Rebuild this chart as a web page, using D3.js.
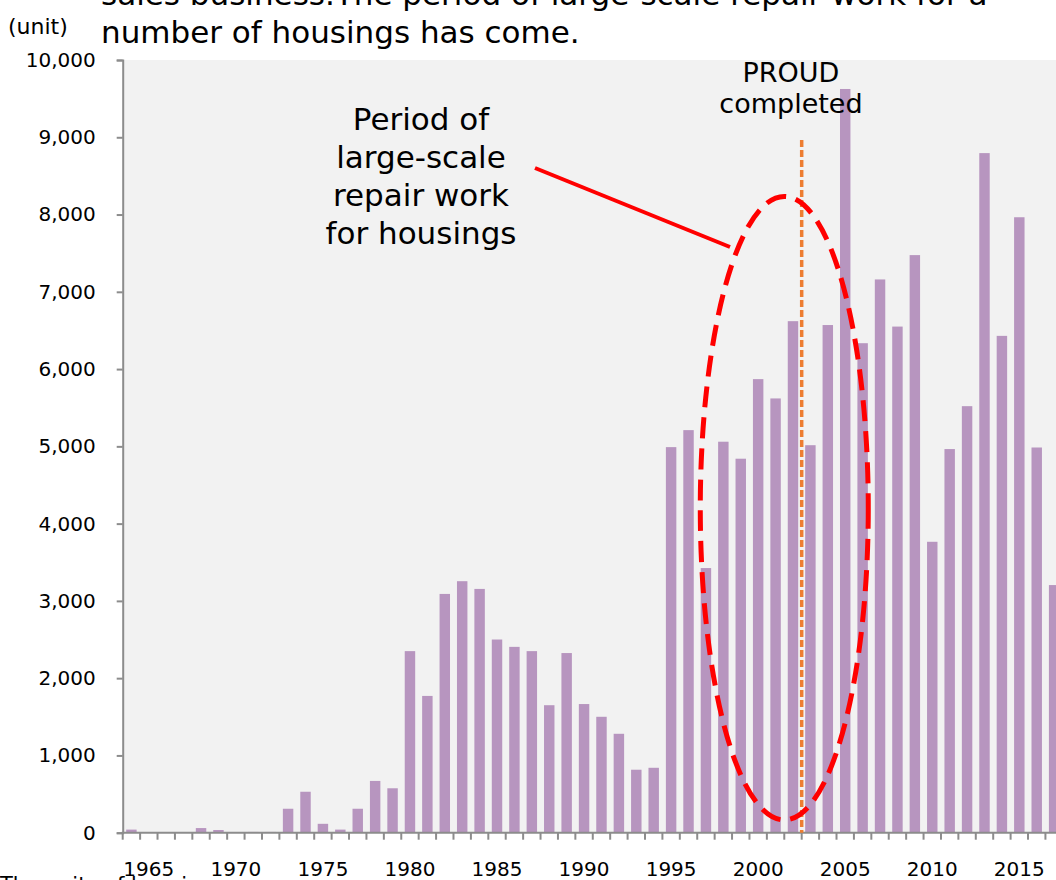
<!DOCTYPE html>
<html>
<head>
<meta charset="utf-8">
<script src="https://cdn.jsdelivr.net/npm/d3@7"></script>
<style>
  html, body { margin: 0; padding: 0; background: #ffffff; }
  svg { display: block; font-family: "DejaVu Sans", Verdana, sans-serif; }
</style>
</head>
<body>
<svg id="chart" width="1056" height="880"></svg>
<script>
// Units of housings per completion year
const years = [
  1964, 1965, 1966, 1967, 1968, 1969, 1970, 1971, 1972, 1973,
  1974, 1975, 1976, 1977, 1978, 1979, 1980, 1981, 1982, 1983,
  1984, 1985, 1986, 1987, 1988, 1989, 1990, 1991, 1992, 1993,
  1994, 1995, 1996, 1997, 1998, 1999, 2000, 2001, 2002, 2003,
  2004, 2005, 2006, 2007, 2008, 2009, 2010, 2011, 2012, 2013,
  2014, 2015, 2016, 2017
];
const units = [
  40, 0, 0, 0, 60, 35, 0, 10, 10, 310,
  530, 115, 40, 310, 670, 575, 2350, 1770, 3090, 3255,
  3155, 2500, 2405, 2350, 1650, 2325, 1665, 1500, 1280, 815,
  840, 4990, 5210, 3425, 5060, 4840, 5870, 5620, 6620, 5015,
  6570, 9625, 6335, 7160, 6550, 7475, 3765, 4965, 5520, 8795,
  6430, 7965, 4985, 3205
];
const yTicks = [0, 1000, 2000, 3000, 4000, 5000, 6000, 7000, 8000, 9000, 10000];
const xLabelYears = [1965, 1970, 1975, 1980, 1985, 1990, 1995, 2000, 2005, 2010, 2015];

const headlineLines = [
  "sales business.The period of large-scale repair work for a",
  "number of housings has come."
];
const footnote = "The units of housings";
const calloutLines = ["Period of", "large-scale", "repair work", "for housings"];
const proudLines = ["PROUD", "completed"];
const proudYear = 2002;   // line drawn at the end of this year's slot

const svg = d3.select("#chart");
const W = 1056, H = 880;
const plot = { left: 122.7, top: 60, bottom: 832.7 };
const step = 17.41;

const x = d3.scaleBand()
  .domain(years)
  .range([plot.left, plot.left + years.length * step])
  .paddingInner(0.4)
  .paddingOuter(0.2);
const y = d3.scaleLinear().domain([0, 10000]).range([plot.bottom, plot.top]);
const xc = yr => x(yr) + x.bandwidth() / 2;          // slot centre
const xEdge = yr => xc(yr) + x.step() / 2;            // right edge of a slot

// plot area
svg.append("rect")
  .attr("x", plot.left).attr("y", plot.top)
  .attr("width", W - plot.left).attr("height", plot.bottom - plot.top)
  .attr("fill", "#f2f2f2");

// bars
svg.append("g").selectAll("rect")
  .data(years.map((yr, i) => ({ yr, v: units[i] })))
  .join("rect")
  .attr("x", d => x(d.yr))
  .attr("y", d => y(d.v))
  .attr("width", x.bandwidth())
  .attr("height", d => plot.bottom - y(d.v))
  .attr("fill", "#b795bf");

// y axis
const yAxis = svg.append("g")
  .attr("transform", `translate(${plot.left},0)`)
  .call(d3.axisLeft(y).tickValues(yTicks).tickFormat(d3.format(",")).tickSize(6).tickPadding(21));
yAxis.select(".domain").attr("stroke", "#8c8c8c").attr("stroke-width", 2);
yAxis.selectAll(".tick line").attr("stroke", "#8c8c8c").attr("stroke-width", 2);
yAxis.selectAll(".tick text")
  .attr("font-family", "DejaVu Sans, Verdana, sans-serif")
  .attr("font-size", 20).attr("fill", "#000");

// footnote below the axis, mostly running off the bottom edge
svg.append("text")
  .attr("x", 0).attr("y", 892)
  .attr("font-size", 21).attr("fill", "#000")
  .text(footnote);

// x axis: line, slot-boundary ticks, labels every five years
svg.append("line")
  .attr("x1", plot.left - 1).attr("x2", W)
  .attr("y1", plot.bottom).attr("y2", plot.bottom)
  .attr("stroke", "#8c8c8c").attr("stroke-width", 2);
svg.append("g").selectAll("line")
  .data(years)
  .join("line")
  .attr("x1", d => xEdge(d)).attr("x2", d => xEdge(d))
  .attr("y1", plot.bottom).attr("y2", plot.bottom + 7)
  .attr("stroke", "#8c8c8c").attr("stroke-width", 2);
svg.append("line")
  .attr("x1", plot.left).attr("x2", plot.left)
  .attr("y1", plot.bottom).attr("y2", plot.bottom + 7)
  .attr("stroke", "#8c8c8c").attr("stroke-width", 2);
svg.append("g").selectAll("text")
  .data(xLabelYears)
  .join("text")
  .attr("x", d => xc(d)).attr("y", 876)
  .attr("text-anchor", "middle")
  .attr("font-size", 20).attr("fill", "#000")
  .text(d => d);

// unit caption
svg.append("text")
  .attr("x", 8).attr("y", 34)
  .attr("font-size", 22).attr("fill", "#000")
  .text("(unit)");

// headline above the plot (first line runs off the top)
svg.append("g").selectAll("text")
  .data(headlineLines)
  .join("text")
  .attr("x", 101).attr("y", (d, i) => 5 + i * 38)
  .attr("font-size", 31).attr("fill", "#000")
  .text(d => d);

// PROUD completion marker
svg.append("line")
  .attr("x1", xEdge(proudYear)).attr("x2", xEdge(proudYear))
  .attr("y1", 140).attr("y2", plot.bottom)
  .attr("stroke", "#ed7d31").attr("stroke-width", 3.5)
  .attr("stroke-dasharray", "7,3");
svg.append("g").selectAll("text")
  .data(proudLines)
  .join("text")
  .attr("x", 791).attr("y", (d, i) => 81.7 + i * 31.6)
  .attr("text-anchor", "middle")
  .attr("font-size", 27).attr("fill", "#000")
  .text(d => d);

// large-scale repair period highlight
const ellCx = xEdge(2001), ellCy = y(4200);
svg.append("ellipse")
  .attr("cx", ellCx).attr("cy", ellCy)
  .attr("rx", 84).attr("ry", y(165) - ellCy)
  .attr("fill", "none")
  .attr("stroke", "#ff0000").attr("stroke-width", 5)
  .attr("stroke-dasharray", "21,10");
svg.append("line")
  .attr("x1", 535).attr("y1", 168)
  .attr("x2", 730).attr("y2", 247)
  .attr("stroke", "#ff0000").attr("stroke-width", 4);
svg.append("g").selectAll("text")
  .data(calloutLines)
  .join("text")
  .attr("x", 421).attr("y", (d, i) => 130 + i * 38)
  .attr("text-anchor", "middle")
  .attr("font-size", 31).attr("fill", "#000")
  .text(d => d);
</script>
</body>
</html>
